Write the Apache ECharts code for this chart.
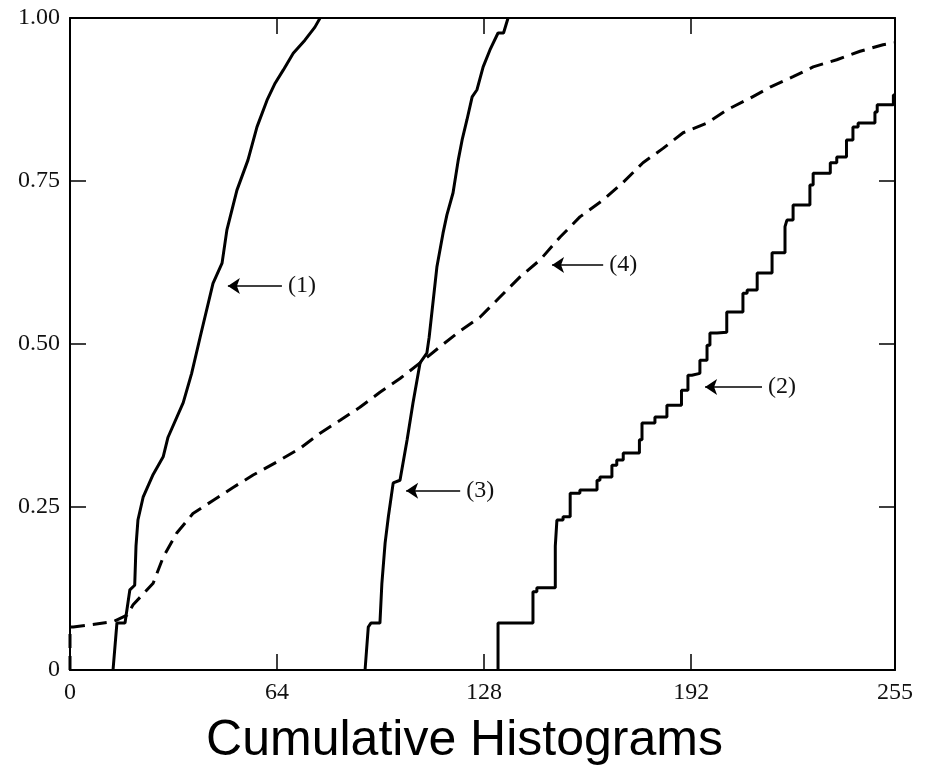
<!DOCTYPE html>
<html lang="en">
<head>
    <meta charset="UTF-8">
    <title>Cumulative Histograms</title>
    <script type="text/javascript" src="https://cdn.jsdelivr.net/npm/echarts@6/dist/echarts.min.js"></script>
    <style>
        html, body { margin: 0; padding: 0; background: #fff; }
        #chart { width: 929px; height: 771px; }
    </style>
</head>
<body>
<div id="chart"></div>
<script type="text/javascript">
// tick labels
var xTicks = [0, 64, 128, 192, 255];
var yTicks = ['0', '0.25', '0.50', '0.75', '1.00'];

// curve (1)
var curve1 = [[13.3,0],[14.5,0.072],[17,0.072],[18.5,0.123],[20,0.13],[20.4,0.19],[21,0.23],[22.6,0.265],
  [25.7,0.30],[28.8,0.327],[30.3,0.357],[35,0.41],[37.6,0.455],[40.2,0.51],[44.2,0.593],[47,0.624],
  [48.5,0.675],[51.6,0.736],[55,0.782],[57.8,0.833],[60.9,0.874],[63.4,0.90],[65.9,0.92],[69,0.946],
  [72.6,0.966],[75.7,0.986],[77.3,1.0]];

// curve (2)
var curve2 = [[132.3,0],[133.5,0.072],[143.1,0.072],[144.3,0.12],[150,0.126],[150.5,0.19],[152.4,0.23],
  [154.6,0.235],[157.6,0.271],[162.9,0.276],[163.8,0.291],[167.5,0.296],[169,0.314],[171,0.322],[173,0.333],
  [176,0.333],[176.8,0.353],[180.8,0.379],[184.5,0.388],[186,0.406],[189,0.406],[191,0.429],[192.2,0.452],
  [194.7,0.455],[196.9,0.475],[197.8,0.498],[200,0.517],[203,0.518],[205,0.549],[208,0.549],[209.3,0.578],
  [212.4,0.583],[213.3,0.609],[217,0.609],[218,0.64],[221,0.64],[221.6,0.68],[223.5,0.69],[225.7,0.713],
  [228.7,0.713],[229.7,0.744],[232.5,0.762],[235,0.762],[237,0.778],[240,0.787],[242,0.813],[243.6,0.833],
  [248.8,0.839],[249.5,0.856],[252,0.867],[254.5,0.867],[255,0.882]];

// curve (3)
var curve3 = [[91.2,0],[92.2,0.066],[93,0.072],[95.8,0.072],[96.4,0.133],[97.4,0.195],[98.4,0.235],
  [99.9,0.287],[102,0.291],[104.2,0.353],[106,0.409],[108.2,0.471],[110.3,0.486],[111,0.51],[113.4,0.618],
  [115.3,0.67],[116.5,0.698],[118.4,0.732],[120,0.782],[121.2,0.813],[122.7,0.844],[124.3,0.879],
  [125.8,0.89],[127.7,0.925],[129.8,0.951],[132.3,0.977],[134,0.977],[135.4,1.0]];

// curve (4), dashed
var curve4 = [[0,0],[0,0.066],[1,0.066],[13.3,0.074],[17.6,0.084],[19.5,0.1],[25.7,0.133],[28.8,0.173],
  [33,0.21],[38,0.24],[44.2,0.26],[50.4,0.28],[56.6,0.299],[63.9,0.319],[71.1,0.34],[77.3,0.363],
  [83.5,0.383],[89.6,0.403],[95.8,0.426],[102,0.447],[108.2,0.471],[114.4,0.496],[120.6,0.52],
  [126.7,0.541],[132.9,0.572],[139.1,0.603],[145.3,0.629],[151.5,0.664],[157.6,0.695],[164.8,0.721],
  [171,0.748],[177.1,0.778],[183.3,0.80],[189.5,0.824],[196.9,0.839],[203,0.859],[210.2,0.877],
  [216.4,0.894],[223.5,0.91],[229.7,0.925],[237,0.936],[244.2,0.949],[251.3,0.959],[255,0.962]];

// annotation arrows: [label, tail x, head x, y]
var arrows = [['(1)', 65.5, 48.8, 0.589], ['(2)', 213.9, 196.3, 0.434],
              ['(3)', 120.6, 103.9, 0.275], ['(4)', 164.8, 149, 0.621]];

var serif = 'Liberation Serif';
var chart = echarts.init(document.getElementById('chart'));

function arrowMark(a) {
  return {
    silent: true,
    animation: false,
    symbol: ['none', 'arrow'],
    symbolSize: 12,
    lineStyle: { color: '#000', width: 1.5, type: 'solid' },
    label: { show: true, position: 'start', formatter: a[0], distance: 6,
             color: '#111', fontFamily: serif, fontSize: 24 },
    data: [[{ coord: [a[1], a[3]] }, { coord: [a[2], a[3]] }]]
  };
}

function curve(name, data, dashed, step, arrow) {
  return {
    name: name,
    type: 'line',
    data: data,
    step: step,
    showSymbol: false,
    symbol: 'none',
    animation: false,
    xAxisIndex: 0,
    yAxisIndex: 0,
    lineStyle: { color: '#000', width: 3, type: dashed ? [14, 8] : 'solid' },
    markLine: arrowMark(arrow)
  };
}

var tickStyle = { show: true, inside: true, length: 16, lineStyle: { color: '#000', width: 1.5 } };
var lineStyle = { show: true, onZero: false, lineStyle: { color: '#000', width: 2 } };

var option = {
  backgroundColor: '#fff',
  title: {
    text: 'Cumulative Histograms',
    left: 'center',
    top: 711,
    textStyle: { fontFamily: 'Liberation Sans', fontSize: 50, fontWeight: 'normal', color: '#000' }
  },
  grid: { left: 70, right: 34, top: 18, bottom: 101 },
  xAxis: [{
    type: 'value', min: 0, max: 255, interval: 64, position: 'bottom',
    axisLine: lineStyle, axisTick: tickStyle, splitLine: { show: false },
    axisLabel: { margin: 11, color: '#111', fontFamily: serif, fontSize: 24,
                 formatter: function (v) { return xTicks.indexOf(v) >= 0 ? String(v) : ''; } }
  }, {
    type: 'value', min: 0, max: 255, interval: 64, position: 'top',
    axisLine: lineStyle, axisTick: tickStyle, splitLine: { show: false }, axisLabel: { show: false }
  }],
  yAxis: [{
    type: 'value', min: 0, max: 1, interval: 0.25, position: 'left',
    axisLine: lineStyle, axisTick: tickStyle, splitLine: { show: false },
    axisLabel: { margin: 10, color: '#111', fontFamily: serif, fontSize: 24,
                 formatter: function (v) { return yTicks[Math.round(v * 4)]; } }
  }, {
    type: 'value', min: 0, max: 1, interval: 0.25, position: 'right',
    axisLine: lineStyle, axisTick: tickStyle, splitLine: { show: false }, axisLabel: { show: false }
  }],
  series: [
    curve('(1)', curve1, false, false, arrows[0]),
    curve('(2)', curve2, false, 'start', arrows[1]),
    curve('(3)', curve3, false, false, arrows[2]),
    curve('(4)', curve4, true, false, arrows[3])
  ]
};
chart.setOption(option);
</script>
</body>
</html>
